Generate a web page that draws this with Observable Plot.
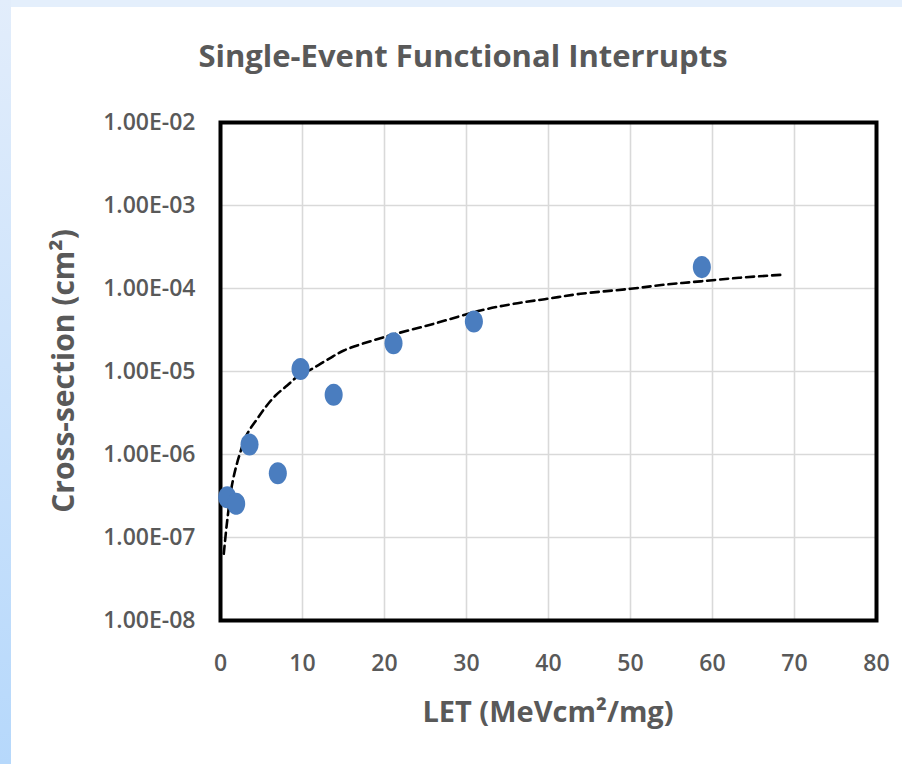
<!DOCTYPE html>
<html>
<head>
<meta charset="utf-8">
<script src="https://cdn.jsdelivr.net/npm/d3@7"></script>
<script src="https://cdn.jsdelivr.net/npm/@observablehq/plot@0.6"></script>
<style>
  html, body { margin: 0; padding: 0; background: #fff; }
  #wrap { position: relative; width: 902px; height: 764px; background: #fff; overflow: hidden; }
  #topstrip { position: absolute; left: 0; top: 0; width: 902px; height: 7px; background: #e4effc; }
  #leftstrip { position: absolute; left: 0; top: 0; width: 11px; height: 764px;
    background: linear-gradient(to bottom, #e2edfb, #b6d8fb); }
  #chart { position: absolute; left: 0; top: 0; }
</style>
</head>
<body>
<div id="wrap">
  <div id="topstrip"></div>
  <div id="leftstrip"></div>
  <div id="chart"></div>
</div>
<script>
// Measured data points (LET, cross-section)
const letValues = [0.82, 1.91, 3.54, 6.99, 9.76, 13.8, 21.1, 30.9, 58.7];
const crossSection = [3.06e-7, 2.55e-7, 1.32e-6, 5.95e-7, 1.07e-5, 5.24e-6, 2.19e-5, 4.0e-5, 1.81e-4];

// Fit curve (dashed)
const fitLet = [0.40, 0.82, 1.43, 2.23, 3.26, 4.48, 5.49, 6.71, 8.13, 9.55, 11.18, 13.21, 15.04, 19.92, 26.02, 31.7, 35.77, 39.84, 43.9, 50.0, 54.48, 58.54, 63.4, 68.7];
const fitCross = [6.37e-8, 1.60e-7, 4.43e-7, 9.27e-7, 1.77e-6, 2.69e-6, 3.72e-6, 5.14e-6, 6.78e-6, 8.95e-6, 1.08e-5, 1.42e-5, 1.79e-5, 2.59e-5, 3.76e-5, 5.43e-5, 6.54e-5, 7.51e-5, 8.63e-5, 9.91e-5, 1.12e-4, 1.22e-4, 1.35e-4, 1.47e-4];

// Axis ticks
const xTicks = [0, 10, 20, 30, 40, 50, 60, 70, 80];
const yTicks = [1e-8, 1e-7, 1e-6, 1e-5, 1e-4, 1e-3, 1e-2];
const yTickLabels = ["1.00E-08", "1.00E-07", "1.00E-06", "1.00E-05", "1.00E-04", "1.00E-03", "1.00E-02"];

const titleText = "Single-Event Functional Interrupts";
const xLabelText = "LET (MeVcm²/mg)";
const yLabelText = "Cross-section (cm²)";

const points = letValues.map((x, i) => ({x, y: crossSection[i]}));
const fit = fitLet.map((x, i) => ({x, y: fitCross[i]}));

// ellipse symbol (taller than wide)
const ellipse = {
  draw(ctx, size) {
    const r = Math.sqrt(size / Math.PI);
    const rx = r * 0.86, ry = r * 1.05, k = 0.5523;
    ctx.moveTo(rx, 0);
    ctx.bezierCurveTo(rx, ry * k, rx * k, ry, 0, ry);
    ctx.bezierCurveTo(-rx * k, ry, -rx, ry * k, -rx, 0);
    ctx.bezierCurveTo(-rx, -ry * k, -rx * k, -ry, 0, -ry);
    ctx.bezierCurveTo(rx * k, -ry, rx, -ry * k, rx, 0);
    ctx.closePath();
  }
};

const W = 902, H = 764;
const mL = 220, mR = 26, mT = 122, mB = 144;

const chart = Plot.plot({
  width: W,
  height: H,
  marginLeft: mL,
  marginRight: mR,
  marginTop: mT,
  marginBottom: mB,
  style: {
    fontFamily: "'Open Sans', sans-serif",
    fontSize: "23px",
    fontWeight: "600",
    color: "#595959",
    background: "transparent",
    overflow: "visible"
  },
  x: {
    domain: [0, 80],
    ticks: xTicks,
    tickSize: 0,
    tickPadding: 34,
    label: null
  },
  y: {
    type: "log",
    domain: [1e-8, 1e-2],
    ticks: yTicks,
    tickFormat: d => yTickLabels[yTicks.indexOf(d)],
    tickSize: 0,
    tickPadding: 25,
    label: null
  },
  marks: [
    Plot.ruleX(xTicks, {stroke: "#d9d9d9", strokeWidth: 1.6}),
    Plot.ruleY(yTicks, {stroke: "#d9d9d9", strokeWidth: 1.6}),
    Plot.frame({stroke: "#000", strokeWidth: 4}),
    Plot.line(fit, {x: "x", y: "y", stroke: "#000", strokeWidth: 2.6, strokeDasharray: "8,5", curve: "catmull-rom"}),
    Plot.dot(points, {x: "x", y: "y", r: 10.5, symbol: ellipse, fill: "#4a7dbf", stroke: "none"})
  ]
});

document.getElementById("chart").appendChild(chart);

const svg = d3.select(chart);
const plotCx = mL + (W - mL - mR) / 2;
const plotCy = mT + (H - mT - mB) / 2;

svg.append("text")
  .attr("x", 463)
  .attr("y", 67)
  .attr("text-anchor", "middle")
  .attr("font-family", "'Open Sans', sans-serif")
  .attr("font-weight", "bold")
  .attr("font-size", 31)
  .attr("fill", "#595959")
  .text(titleText);

svg.append("text")
  .attr("x", plotCx)
  .attr("y", 722)
  .attr("text-anchor", "middle")
  .attr("font-family", "'Open Sans', sans-serif")
  .attr("font-weight", "bold")
  .attr("font-size", 29)
  .attr("fill", "#595959")
  .text(xLabelText);

svg.append("text")
  .attr("transform", `translate(74,${plotCy}) rotate(-90)`)
  .attr("text-anchor", "middle")
  .attr("font-family", "'Open Sans', sans-serif")
  .attr("font-weight", "bold")
  .attr("font-size", 30)
  .attr("fill", "#595959")
  .text(yLabelText);
</script>
</body>
</html>
